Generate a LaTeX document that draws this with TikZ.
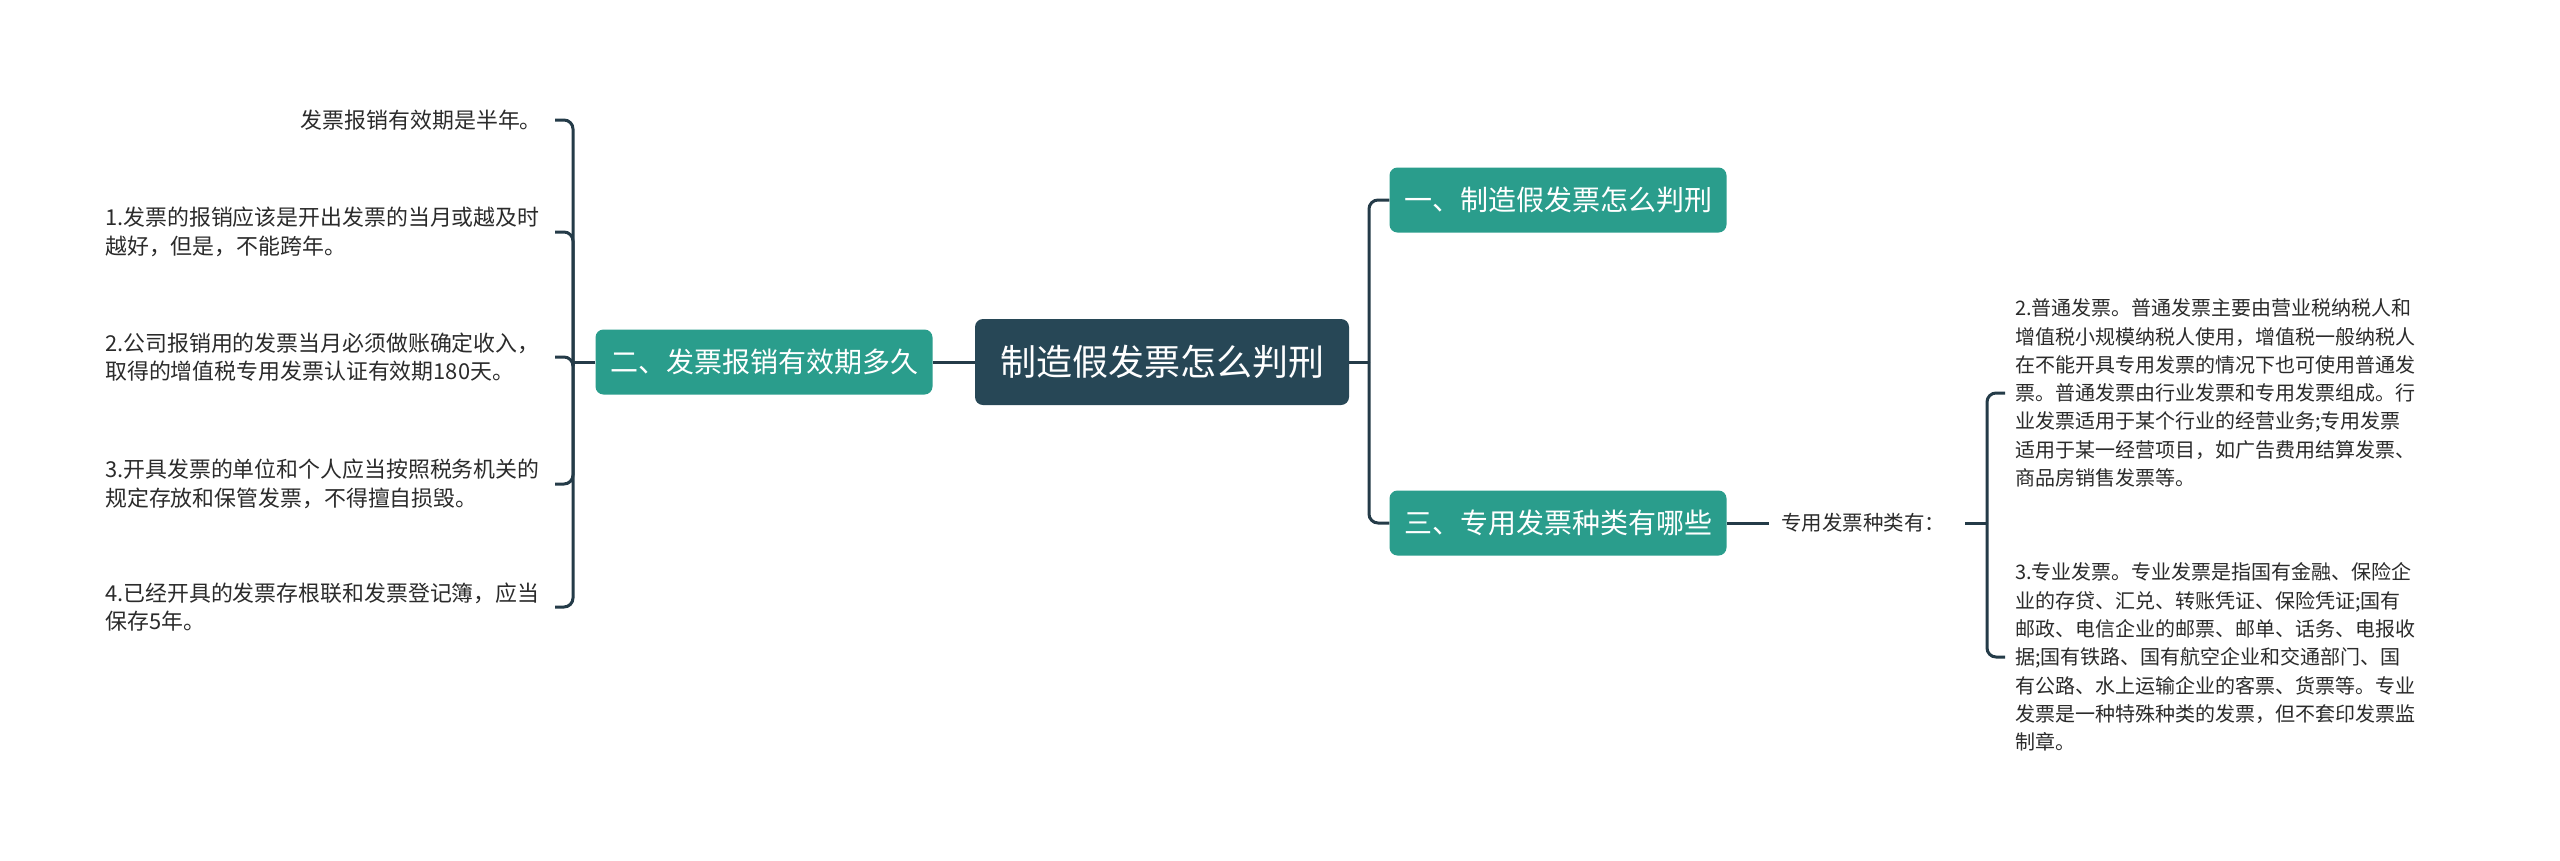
\documentclass[tikz,border=0pt]{standalone}
\usepackage{fontspec}
\setmainfont{Noto Sans CJK SC}
\definecolor{linec}{HTML}{243B48}
\definecolor{rootc}{HTML}{274756}
\definecolor{tealc}{HTML}{2A9D8C}
\definecolor{leafc}{HTML}{2B2B2B}
\begin{document}
\begin{tikzpicture}[x=1pt,y=-1pt,
  conn/.style={draw=linec, line width=3pt, rounded corners=9pt},
  rootbox/.style={fill=rootc, rounded corners=8pt, text=white, minimum width=374pt, minimum height=86pt, font=\fontsize{36}{40}\selectfont, inner sep=0pt},
  topic/.style={fill=tealc, rounded corners=8pt, text=white, minimum width=337pt, minimum height=65pt, font=\fontsize{28}{32}\selectfont, inner sep=0pt},
  leafl/.style={text=leafc, align=left, inner sep=0pt, font=\fontsize{21.9}{28.5}\selectfont},
  leafr/.style={text=leafc, align=left, inner sep=0pt, font=\fontsize{20}{28.3}\selectfont},
  labelbox/.style={text=leafc, inner xsep=12pt, inner ysep=0pt, font=\fontsize{20.5}{24}\selectfont}
]
\useasboundingbox (0,0) rectangle (2560,860);
\fill[white] (0,0) rectangle (2560,860);

% main nodes
\node[rootbox] (root) at (1162,362) {制造假发票怎么判刑};
\node[topic] (b2) at (764,362) {二、发票报销有效期多久};
\node[topic] (b1) at (1558,200) {一、制造假发票怎么判刑};
\node[topic] (b3) at (1558,523) {三、专用发票种类有哪些};
\node[labelbox] (lab) at (1863,523) {专用发票种类有：};

% left leaves
\node[leafl, anchor=east] (l0) at (542,120) {发票报销有效期是半年。};
\node[leafl, anchor=west] (l1) at (105,232) {1.发票的报销应该是开出发票的当月或越及时\\越好，但是，不能跨年。};
\node[leafl, anchor=west] (l2) at (105,357) {2.公司报销用的发票当月必须做账确定收入，\\取得的增值税专用发票认证有效期180天。};
\node[leafl, anchor=west] (l3) at (105,484) {3.开具发票的单位和个人应当按照税务机关的\\规定存放和保管发票，不得擅自损毁。};
\node[leafl, anchor=west] (l4) at (105,607) {4.已经开具的发票存根联和发票登记簿，应当\\保存5年。};

% right leaves
\node[leafr, anchor=west] (r2) at (2015,393) {2.普通发票。普通发票主要由营业税纳税人和\\增值税小规模纳税人使用，增值税一般纳税人\\在不能开具专用发票的情况下也可使用普通发\\票。普通发票由行业发票和专用发票组成。行\\业发票适用于某个行业的经营业务;专用发票\\适用于某一经营项目，如广告费用结算发票、\\商品房销售发票等。};
\node[leafr, anchor=west] (r3) at (2015,657) {3.专业发票。专业发票是指国有金融、保险企\\业的存贷、汇兑、转账凭证、保险凭证;国有\\邮政、电信企业的邮票、邮单、话务、电报收\\据;国有铁路、国有航空企业和交通部门、国\\有公路、水上运输企业的客票、货票等。专业\\发票是一种特殊种类的发票，但不套印发票监\\制章。};

% junction coordinates
\coordinate (cj) at (1369,362);
\coordinate (lj) at (573,362);
\coordinate (rj) at (1987,523);
\coordinate (lstub) at (555,0);
\coordinate (rstub) at (2005,0);

% connectors
\draw[conn] (root.east) -- (cj);
\draw[conn] (cj) |- (b1.west);
\draw[conn] (cj) |- (b3.west);
\draw[conn] (root.west) -- (b2.east);
\draw[conn] (b2.west) -- (lj);
\draw[conn] (lj) |- (lstub |- l0);
\draw[conn] (lj) |- (lstub |- l1);
\draw[conn] (lj) |- (lstub |- l2);
\draw[conn] (lj) |- (lstub |- l3);
\draw[conn] (lj) |- (lstub |- l4);
\draw[conn] (b3.east) -- (lab.west);
\draw[conn] ([xshift=8pt]lab.east) -- (rj);
\draw[conn] (rj) |- (rstub |- r2);
\draw[conn] (rj) |- (rstub |- r3);
\end{tikzpicture}
\end{document}
